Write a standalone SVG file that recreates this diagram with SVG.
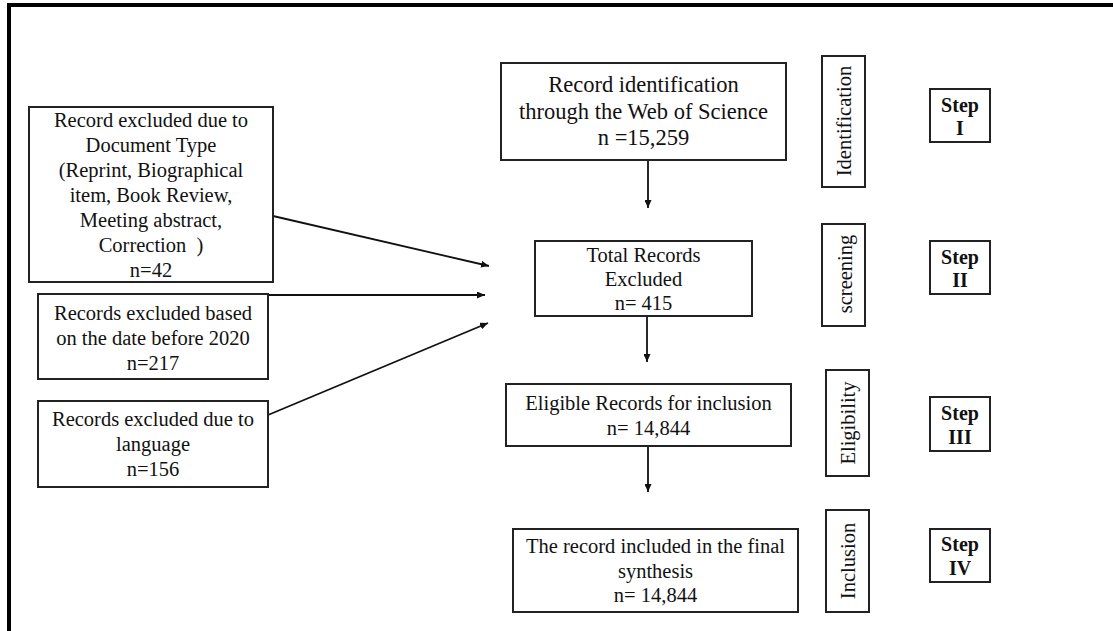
<svg xmlns="http://www.w3.org/2000/svg" width="1113" height="631" viewBox="0 0 1113 631">
<style>
  .frame { stroke: #000; stroke-width: 4; fill: none; }
  .box { fill: #fff; stroke: #222; stroke-width: 2; }
  .t { font-family: "Liberation Serif", "Times New Roman", serif; font-size: 20.5px; fill: #111; text-anchor: middle; }
  .big { font-size: 22.5px; }
  .b { font-weight: bold; font-size: 20px; }
  .conn { stroke: #111; stroke-width: 1.8; fill: none; marker-end: url(#ah); }
</style>
<defs>
  <marker id="ah" markerUnits="userSpaceOnUse" markerWidth="9" markerHeight="7" refX="8" refY="3.5" orient="auto">
    <path d="M0,0 L8,3.5 L0,7 Z" fill="#111"/>
  </marker>
</defs>
<rect width="1113" height="631" fill="#fff"/>
<g id="frame">
  <line class="frame" x1="7" y1="5" x2="1113" y2="5"/>
  <line class="frame" x1="9" y1="3" x2="9" y2="631"/>
</g>

<g id="connectors">
  <line class="conn" x1="648" y1="161" x2="648" y2="208"/>
  <line class="conn" x1="647" y1="317" x2="647" y2="362"/>
  <line class="conn" x1="648" y1="447" x2="648" y2="492"/>
  <line class="conn" x1="273" y1="216" x2="489" y2="266"/>
  <line class="conn" x1="268" y1="295" x2="485" y2="295"/>
  <line class="conn" x1="268" y1="415" x2="488" y2="323"/>
</g>

<g id="node-excl-doctype">
  <rect class="box" x="29" y="107" width="244" height="175"/>
  <text class="t" x="151" y="127">Record excluded due to</text>
  <text class="t" x="151" y="152">Document Type</text>
  <text class="t" x="151" y="177">(Reprint, Biographical</text>
  <text class="t" x="151" y="202">item, Book Review,</text>
  <text class="t" x="151" y="227">Meeting abstract,</text>
  <text class="t" x="151" y="252">Correction&#160; )</text>
  <text class="t" x="151" y="277">n=42</text>
</g>

<g id="node-excl-date">
  <rect class="box" x="38" y="294" width="230" height="85"/>
  <text class="t" x="153" y="320">Records excluded based</text>
  <text class="t" x="153" y="344.5">on the date before 2020</text>
  <text class="t" x="153" y="369.5">n=217</text>
</g>

<g id="node-excl-lang">
  <rect class="box" x="38" y="401" width="230" height="86"/>
  <text class="t" x="153" y="426">Records excluded due to</text>
  <text class="t" x="153" y="451">language</text>
  <text class="t" x="153" y="475.5">n=156</text>
</g>

<g id="node-identification">
  <rect class="box" x="501" y="63" width="285" height="97"/>
  <text class="t big" x="643.5" y="92">Record identification</text>
  <text class="t big" x="643.5" y="118.5">through the Web of Science</text>
  <text class="t big" x="643.5" y="145">n =15,259</text>
</g>

<g id="node-total-excluded">
  <rect class="box" x="535" y="241" width="217" height="75"/>
  <text class="t" x="643.5" y="262">Total Records</text>
  <text class="t" x="643.5" y="285.5">Excluded</text>
  <text class="t" x="643.5" y="310">n= 415</text>
</g>

<g id="node-eligible">
  <rect class="box" x="506" y="384" width="285" height="62"/>
  <text class="t" x="648.5" y="410">Eligible Records for inclusion</text>
  <text class="t" x="648.5" y="435">n= 14,844</text>
</g>

<g id="node-included">
  <rect class="box" x="513" y="529" width="285" height="83"/>
  <text class="t" x="655.5" y="553">The record included in the final</text>
  <text class="t" x="655.5" y="578">synthesis</text>
  <text class="t" x="655.5" y="602">n= 14,844</text>
</g>

<g id="label-identification">
  <rect class="box" x="822" y="56" width="43" height="131"/>
  <text class="t" transform="translate(851,121) rotate(-90)">Identification</text>
</g>
<g id="label-screening">
  <rect class="box" x="822" y="224" width="43" height="102"/>
  <text class="t" transform="translate(852,274) rotate(-90)">screening</text>
</g>
<g id="label-eligibility">
  <rect class="box" x="826" y="370" width="43" height="106"/>
  <text class="t" transform="translate(855,423) rotate(-90)">Eligibility</text>
</g>
<g id="label-inclusion">
  <rect class="box" x="826" y="510" width="43" height="102"/>
  <text class="t" transform="translate(855,561) rotate(-90)">Inclusion</text>
</g>

<g id="step-1">
  <rect class="box" x="930" y="89" width="60" height="53"/>
  <text class="t b" x="960" y="112">Step</text>
  <text class="t b" x="960" y="135">I</text>
</g>
<g id="step-2">
  <rect class="box" x="930" y="241" width="60" height="53"/>
  <text class="t b" x="960" y="263.5">Step</text>
  <text class="t b" x="960" y="287">II</text>
</g>
<g id="step-3">
  <rect class="box" x="930" y="397" width="60" height="54"/>
  <text class="t b" x="960" y="420">Step</text>
  <text class="t b" x="960" y="444">III</text>
</g>
<g id="step-4">
  <rect class="box" x="930" y="529" width="60" height="53"/>
  <text class="t b" x="960" y="551">Step</text>
  <text class="t b" x="960" y="575">IV</text>
</g>
</svg>
